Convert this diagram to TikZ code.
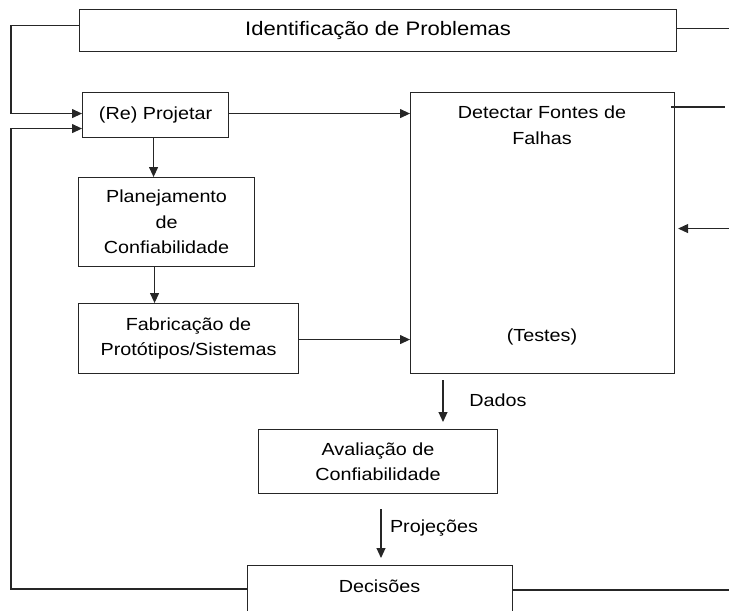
\documentclass[tikz,border=0pt]{standalone}
\usepackage{fontspec}
\setmainfont[FakeStretch=1.13]{Liberation Sans}
\usetikzlibrary{arrows.meta,calc}
\tikzset{
  box/.style={draw=black!85, line width=1.1pt, rectangle, anchor=north west, inner sep=0pt, align=center, font=\fontsize{17.5}{25.5}\selectfont},
  txt/.style={inner sep=0pt, align=center, font=\fontsize{17.5}{25.5}\selectfont},
  ln/.style={draw=black!85, line width=1.1pt},
  arr/.style={ln, -{Triangle[length=10pt,width=9pt]}},
}
\begin{document}
\begin{tikzpicture}[x=1pt,y=-1pt]
\useasboundingbox (0,0) rectangle (729,611);
\coordinate (lt) at (11,0);
\coordinate (rt) at (729,0);
\coordinate (cxa) at (443,0);
\coordinate (cxb) at (381,0);
% boxes
\node[box, minimum width=597pt, minimum height=42pt, font=\fontsize{19.5}{25}\selectfont] (title) at (79,9) {Identificação de Problemas};
\node[box, minimum width=146pt, minimum height=45pt] (re) at (82,92) {(Re) Projetar};
\node[box, minimum width=176pt, minimum height=89pt] (plan) at (78,177) {Planejamento\\de\\Confiabilidade};
\node[box, minimum width=220pt, minimum height=70pt] (fab) at (78,303) {Fabricação de\\Protótipos/Sistemas};
\node[box, minimum width=264pt, minimum height=281pt] (det) at (410,92) {};
\node[txt] (detT) at (542,125) {Detectar Fontes de\\Falhas};
\node[txt] (test) at (542,337) {(Testes)};
\node[box, minimum width=239pt, minimum height=64pt] (ava) at (258,429) {Avaliação de\\Confiabilidade};
\node[box, minimum width=265pt, minimum height=80pt] (dec) at (247,565) {};
\node[txt] (decT) at (379.5,586) {Decisões};
% labels
\node[txt] (dados) at (498,400) {Dados};
\node[txt] (proj) at (434,528) {Projeções};
% connectors
\draw[arr] ([yshift=5pt]title.west) -| ([yshift=1.5pt]re.west -| lt) -- ([yshift=1.5pt]re.west);
\draw[arr] ([yshift=-3pt]decT.center -| dec.west) -| ([yshift=-13.5pt]re.west -| lt) -- ([yshift=-13.5pt]re.west);
\draw[arr] ([yshift=1.5pt]re.east) -- ([yshift=1.5pt]re.east -| det.west);
\draw[arr] ([xshift=-2pt]re.south) -- ([xshift=-2pt]re.south |- plan.north);
\draw[arr] ([xshift=-12pt]plan.south) -- ([xshift=-12pt]plan.south |- fab.north);
\draw[arr] ([yshift=-1pt]fab.east) -- ([yshift=-1pt]fab.east -| det.west);
\draw[arr, shorten <=6pt, shorten >=7pt] (det.south -| cxa) -- (ava.north -| cxa);
\draw[arr, shorten <=15pt, shorten >=7pt] (ava.south -| cxb) -- (dec.north -| cxb);
\draw[ln] ([yshift=2pt]title.east) -- ([yshift=2pt]title.east -| rt);
\draw[ln] ([shift={(-4pt,-15pt)}]det.north east) -- ([shift={(-4pt,-15pt)}]det.north east -| rt);
\draw[arr, shorten >=3pt] ([yshift=4.5pt]det.east -| rt) -- ([yshift=4.5pt]det.east);
\draw[ln] ([yshift=-4pt]decT.center -| dec.east) -- ([yshift=-4pt]decT.center -| rt);
\end{tikzpicture}
\end{document}
